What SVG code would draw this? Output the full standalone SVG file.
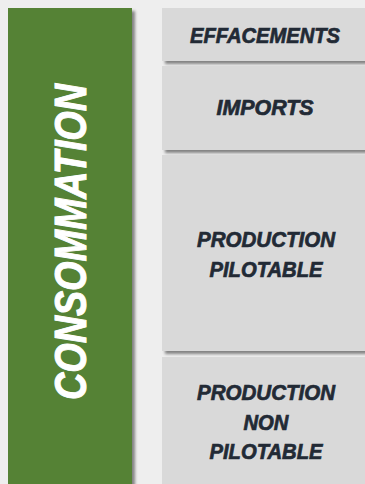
<svg xmlns="http://www.w3.org/2000/svg" width="365" height="484" viewBox="0 0 365 484">
<defs>
<filter id="sh" x="-10%" y="-10%" width="130%" height="130%">
<feDropShadow dx="3" dy="3" stdDeviation="1.5" flood-color="#000" flood-opacity="0.45"/>
</filter>
<style>
.box{fill:#d9d9d9;filter:url(#sh);}
.lbl{font-family:"Liberation Sans",Arial,sans-serif;font-weight:bold;font-style:italic;font-size:22px;fill:#222a35;stroke:#222a35;stroke-width:0.7;text-anchor:middle;}
.main{font-family:"Liberation Sans",Arial,sans-serif;font-weight:bold;font-style:italic;font-size:44px;fill:#ffffff;stroke:#ffffff;stroke-width:1;text-anchor:middle;}
</style>
</defs>
<rect width="365" height="484" fill="#eeeeee"/>
<g id="consommation">
<rect x="8" y="8" width="124" height="480" fill="#548235" filter="url(#sh)"/>
<text class="main" transform="translate(86,242) rotate(-90)" textLength="316" lengthAdjust="spacingAndGlyphs">CONSOMMATION</text>
</g>
<g id="effacements">
<rect class="box" x="162" y="8" width="210" height="53"/>
<text class="lbl" x="265" y="43" textLength="150" lengthAdjust="spacingAndGlyphs">EFFACEMENTS</text>
</g>
<g id="imports">
<rect class="box" x="162" y="66" width="210" height="84"/>
<text class="lbl" x="265" y="115" textLength="97" lengthAdjust="spacingAndGlyphs">IMPORTS</text>
</g>
<g id="production-pilotable">
<rect class="box" x="162" y="155" width="210" height="196"/>
<text class="lbl" x="266" y="247" textLength="138" lengthAdjust="spacingAndGlyphs">PRODUCTION</text>
<text class="lbl" x="266" y="277" textLength="113" lengthAdjust="spacingAndGlyphs">PILOTABLE</text>
</g>
<g id="production-non-pilotable">
<rect class="box" x="162" y="357" width="210" height="140"/>
<text class="lbl" x="266" y="400" textLength="138" lengthAdjust="spacingAndGlyphs">PRODUCTION</text>
<text class="lbl" x="266" y="430" textLength="45" lengthAdjust="spacingAndGlyphs">NON</text>
<text class="lbl" x="266" y="459" textLength="113" lengthAdjust="spacingAndGlyphs">PILOTABLE</text>
</g>
<g id="connectors"/>
</svg>
